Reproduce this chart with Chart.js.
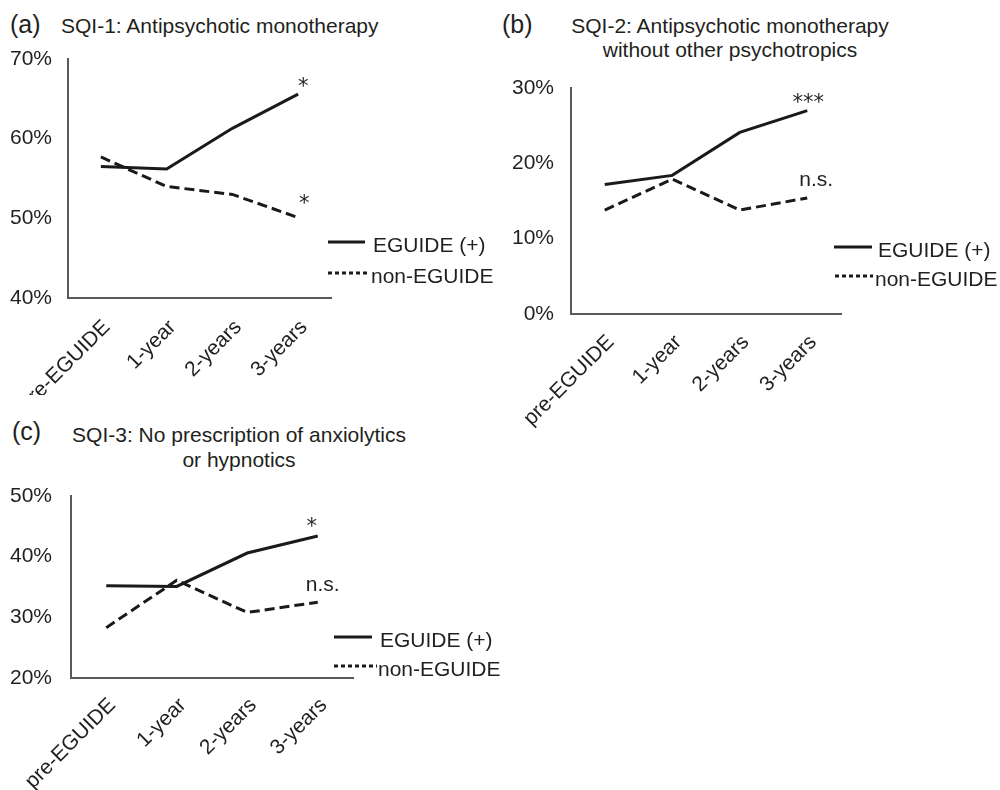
<!DOCTYPE html>
<html><head><meta charset="utf-8">
<script src="https://cdn.jsdelivr.net/npm/chart.js@4.4.0/dist/chart.umd.min.js"></script>
<style>
body{margin:0;background:#fff;width:1000px;height:790px;position:relative;overflow:hidden;font-family:"Liberation Sans",Arial,sans-serif;color:#231f20;}
canvas{position:absolute;}
.lab{position:absolute;font-size:25px;line-height:28px;white-space:nowrap;}
.ttl{position:absolute;font-size:21px;line-height:24px;white-space:nowrap;text-align:center;}
</style></head>
<body>
<div class="lab" style="left:10px;top:10px;">(a)</div>
<div class="ttl" style="left:61px;top:14px;text-align:left;">SQI-1: Antipsychotic monotherapy</div>
<div class="lab" style="left:502px;top:10px;">(b)</div>
<div class="ttl" style="left:530px;top:14px;width:400px;">SQI-2: Antipsychotic monotherapy<br>without other psychotropics</div>
<div class="lab" style="left:12px;top:417px;">(c)</div>
<div class="ttl" style="left:39px;top:422px;width:400px;line-height:25px;">SQI-3: No prescription of anxiolytics<br>or hypnotics</div>
<canvas id="cA" width="500" height="395" style="left:0;top:0;width:500px;height:395px;"></canvas>
<canvas id="cB" width="500" height="440" style="left:500px;top:0;width:500px;height:440px;"></canvas>
<canvas id="cC" width="500" height="395" style="left:0;top:395px;width:500px;height:395px;"></canvas>
<script>
const categories = ['pre-EGUIDE', '1-year', '2-years', '3-years'];
const seriesNames = ['EGUIDE (+)', 'non-EGUIDE'];

const sqi1Eguide    = [56.5, 56.2, 61.3, 65.6];
const sqi1NonEguide = [57.7, 54.0, 53.0, 50.1];
const sqi2Eguide    = [17.2, 18.4, 24.1, 27.0];
const sqi2NonEguide = [13.8, 17.9, 13.8, 15.4];
const sqi3Eguide    = [35.2, 35.1, 40.6, 43.4];
const sqi3NonEguide = [28.3, 36.1, 30.8, 32.5];

const sqi1Ticks = [40, 50, 60, 70];
const sqi2Ticks = [0, 10, 20, 30];
const sqi3Ticks = [20, 30, 40, 50];

const sqi1Sig = ['*', '*'];
const sqi2Sig = ['***', 'n.s.'];
const sqi3Sig = ['*', 'n.s.'];

const FONT = '"Liberation Sans", Arial, sans-serif';
const TEXT = '#231f20';
const LINE = '#1a1a1a';
const AXIS = '#595959';

const overlay = {
  id: 'overlay',
  afterDatasetsDraw(chart, args, opts) {
    const ctx = chart.ctx, xs = chart.scales.x, ys = chart.scales.y;
    ctx.save();
    chart.data.datasets.forEach((ds, i) => {
      const s = opts.sig[i];
      const last = ds.data.length - 1;
      ctx.font = (s.text.indexOf('*') >= 0 ? '21px "DejaVu Sans"' : '21px ' + FONT);
      ctx.fillStyle = TEXT;
      ctx.textAlign = 'center';
      ctx.textBaseline = 'alphabetic';
      ctx.fillText(s.text, xs.getPixelForValue(last) + s.dx, ys.getPixelForValue(ds.data[last]) + s.dy);
    });
    chart.data.datasets.forEach((ds, i) => {
      const L = opts.legend[i];
      ctx.beginPath();
      ctx.setLineDash(L.dash);
      ctx.lineWidth = 3;
      ctx.strokeStyle = ds.borderColor;
      ctx.moveTo(L.x1, L.y);
      ctx.lineTo(L.x2, L.y);
      ctx.stroke();
      ctx.setLineDash([]);
      ctx.font = '21px ' + FONT;
      ctx.fillStyle = TEXT;
      ctx.textAlign = 'left';
      ctx.textBaseline = 'alphabetic';
      ctx.fillText(ds.label, L.tx, L.y + 10);
    });
    ctx.restore();
  }
};

function makeChart(id, H, eg, non, ticks, sigText, area, yPad, xPad, sigOff, legend) {
  const W = 500;
  new Chart(document.getElementById(id), {
    type: 'line',
    data: {
      labels: categories,
      datasets: [
        { label: seriesNames[0], data: eg, borderColor: LINE, borderWidth: 3, pointRadius: 0, tension: 0, fill: false },
        { label: seriesNames[1], data: non, borderColor: LINE, borderWidth: 3, borderDash: [10, 5], pointRadius: 0, tension: 0, fill: false }
      ]
    },
    options: {
      responsive: false, animation: false, devicePixelRatio: 1,
      layout: { padding: { left: 0, top: area.top, right: W - area.right, bottom: 0 } },
      plugins: {
        legend: { display: false }, tooltip: { enabled: false },
        overlay: {
          sig: sigText.map((t, i) => ({ text: t, dx: sigOff[i][0], dy: sigOff[i][1] })),
          legend: legend
        }
      },
      scales: {
        x: {
          type: 'category', offset: true,
          grid: { display: false, drawTicks: false },
          border: { display: true, color: AXIS, width: 2 },
          ticks: { font: { family: FONT, size: 21 }, color: TEXT, maxRotation: 45, minRotation: 45, padding: xPad, labelOffset: 6, autoSkip: false },
          afterFit(s) { s.height = H - area.bottom; s.paddingLeft = 0; s.paddingRight = 0; }
        },
        y: {
          min: ticks[0], max: ticks[ticks.length - 1],
          grid: { display: false, drawTicks: false },
          border: { display: true, color: AXIS, width: 2 },
          afterBuildTicks(s) { s.ticks = ticks.map(v => ({ value: v })); },
          ticks: { font: { family: FONT, size: 21 }, color: TEXT, padding: yPad, callback: v => v + '%' },
          afterFit(s) { s.width = area.left; s.paddingTop = 0; s.paddingBottom = 0; }
        }
      }
    },
    plugins: [overlay]
  });
}

makeChart('cA', 395, sqi1Eguide, sqi1NonEguide, sqi1Ticks, sqi1Sig,
  { left: 68, top: 59, right: 331, bottom: 298 }, 16, 17,
  [[5, -1], [6, -8]],
  [ { x1: 328, x2: 365, y: 242, tx: 373, dash: [] },
    { x1: 328, x2: 370, y: 273, tx: 371, dash: [4, 3] } ]);

makeChart('cB', 440, sqi2Eguide, sqi2NonEguide, sqi2Ticks, sqi2Sig,
  { left: 71, top: 88, right: 341, bottom: 314 }, 17, 16,
  [[1, -2], [9, -12]],
  [ { x1: 334, x2: 372, y: 247, tx: 378, dash: [] },
    { x1: 335, x2: 373, y: 276, tx: 375, dash: [4, 3] } ]);

makeChart('cC', 395, sqi3Eguide, sqi3NonEguide, sqi3Ticks, sqi3Sig,
  { left: 71, top: 101, right: 353, bottom: 283 }, 19, 15,
  [[-6, -3], [5, -11]],
  [ { x1: 334, x2: 372, y: 242, tx: 380, dash: [] },
    { x1: 334, x2: 377, y: 271, tx: 378, dash: [4, 3] } ]);
</script>
</body></html>
